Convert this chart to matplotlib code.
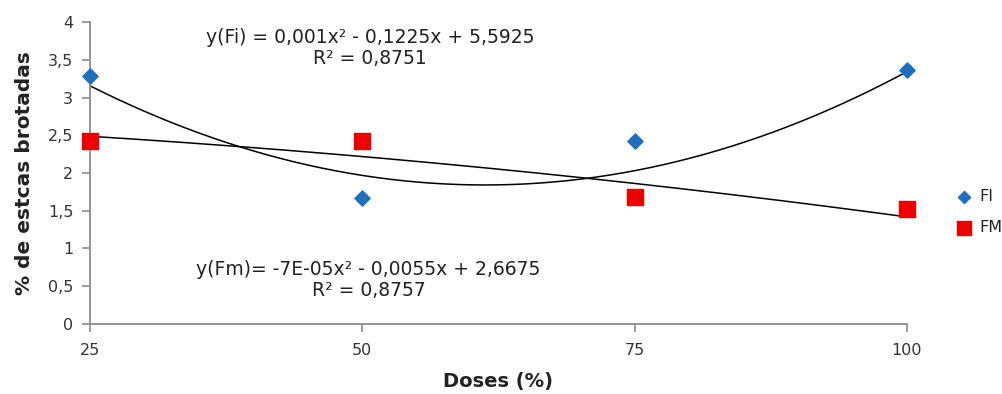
import numpy as np
import matplotlib
matplotlib.use("Agg")
import matplotlib.pyplot as plt

doses = [25, 50, 75, 100]
fi_values = [3.29, 1.67, 2.42, 3.37]
fm_values = [2.43, 2.43, 1.68, 1.52]
# trendline coefficients as printed on the chart (x², x, const)
fi_coef = [0.001, -0.1225, 5.5925]
fm_coef = [-7e-05, -0.0055, 2.6675]
x_ticks = [25, 50, 75, 100]
y_ticks = [0, 0.5, 1, 1.5, 2, 2.5, 3, 3.5, 4]
y_tick_labels = ["0", "0,5", "1", "1,5", "2", "2,5", "3", "3,5", "4"]
eq_fi = "y(Fi) = 0,001x² - 0,1225x + 5,5925\nR² = 0,8751"
eq_fm = "y(Fm)= -7E-05x² - 0,0055x + 2,6675\nR² = 0,8757"

fig = plt.figure(figsize=(10.03, 3.94), dpi=100)
ax = fig.add_axes([0.0897, 0.178, 0.8145, 0.766])

xs = np.linspace(min(doses), max(doses), 300)
ax.plot(xs, np.polyval(fi_coef, xs), color="black", lw=1.1, zorder=2)
ax.plot(xs, np.polyval(fm_coef, xs), color="black", lw=1.1, zorder=2)

ax.scatter(doses, fi_values, marker="D", s=60, color="#1f6fbf", zorder=3, label="FI", clip_on=False)
ax.scatter(doses, fm_values, marker="s", s=140, color="#ee0000", zorder=3, label="FM", clip_on=False)

ax.set_xlim(25, 100)
ax.set_ylim(0, 4)
ax.set_xticks(x_ticks)
ax.set_yticks(y_ticks)
ax.set_yticklabels(y_tick_labels)
for s in ["top", "right"]:
    ax.spines[s].set_visible(False)
for s in ["left", "bottom"]:
    ax.spines[s].set_color("#8c8c8c")
    ax.spines[s].set_linewidth(1.3)
ax.tick_params(axis="both", colors="#8c8c8c", length=6, width=1.2, direction="out",
               labelcolor="#333333", labelsize=11.5)
ax.tick_params(axis="x", pad=8)
ax.tick_params(axis="y", pad=6)

ax.set_xlabel("Doses (%)", fontsize=14, fontweight="bold", color="#222222", labelpad=10)
ax.set_ylabel("% de estcas brotadas", fontsize=14.5, fontweight="bold", color="#222222", labelpad=10)

ax.text(0.343, 0.915, eq_fi, transform=ax.transAxes, ha="center", va="center",
        fontsize=13.5, color="#222222", linespacing=1.15)
ax.text(0.341, 0.145, eq_fm, transform=ax.transAxes, ha="center", va="center",
        fontsize=13.5, color="#222222", linespacing=1.15)

leg = ax.legend(loc="center left", bbox_to_anchor=(1.042, 0.37), frameon=False,
                fontsize=11.5, handletextpad=0.0, labelspacing=1.0, markerscale=0.8,
                borderaxespad=0.0)
for t in leg.get_texts():
    t.set_color("#222222")

fig.savefig("out.png", dpi=100)
